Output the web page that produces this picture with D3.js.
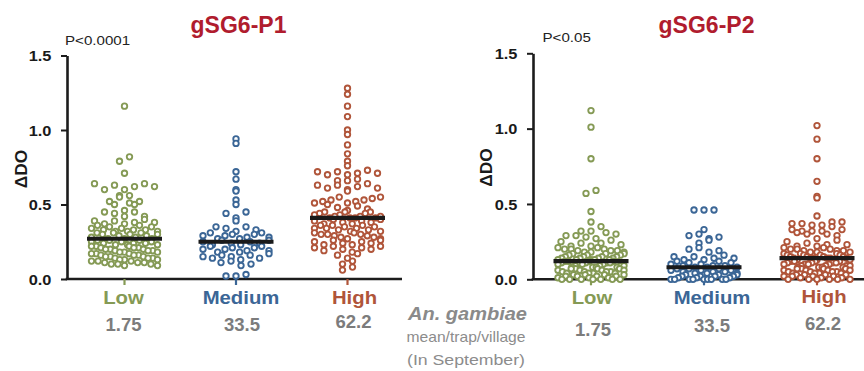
<!DOCTYPE html>
<html>
<head>
<meta charset="utf-8">
<script src="https://cdn.jsdelivr.net/npm/d3@7"></script>
<style>
  html, body { margin: 0; padding: 0; background: #fff; }
  svg { display: block; font-family: "Liberation Sans", Arial, Helvetica, sans-serif; }
</style>
</head>
<body>
<svg id="chart" width="864" height="371"></svg>
<script>
// ---------------- DATA ----------------
const categories = ["Low", "Medium", "High"];
const densities = ["1.75", "33.5", "62.2"];
const yTicks = [0, 0.5, 1.0, 1.5];
const titles = ["gSG6-P1", "gSG6-P2"];
const pValues = ["P<0.0001", "P<0.05"];
const yLabel = "ΔDO";
const centerLabel = ["An. gambiae", "mean/trap/village", "(In September)"];

const p1Low = [1.16,0.82,0.79,0.71,0.64,0.64,0.63,0.62,0.62,0.60,0.60,0.56,0.56,0.55,0.52,0.52,0.51,0.50,0.50,0.46,0.45,0.45,0.44,0.42,0.42,0.40,0.39,0.39,0.38,0.38,
  0.37,0.37,0.36,0.36,0.35,0.35,0.34,0.34,0.33,0.33,0.33,0.32,0.32,0.32,0.31,0.31,0.31,0.30,0.30,0.30,0.29,0.29,0.28,0.28,0.27,
  0.27,0.27,0.26,0.26,0.26,0.25,0.25,0.25,0.24,0.24,0.24,0.23,0.23,0.23,0.22,0.22,0.22,0.21,0.21,0.21,0.20,0.20,0.20,0.19,0.19,0.19,0.18,0.18,0.18,0.17,0.17,0.17,0.16,0.16,0.16,0.15,0.15,0.15,0.14,0.14,0.14,0.13,0.13,0.13,0.12,0.12,0.12,0.11,0.11,0.11,0.10,0.10,0.10,0.09,0.09];
const p1Medium = [0.94,0.91,0.72,0.67,0.60,0.59,0.53,0.50,0.45,0.44,0.41,0.39,0.35,0.35,0.34,0.33,0.32,0.31,0.31,0.30,0.30,0.29,0.29,0.28,0.28,0.27,0.27,0.26,0.26,0.25,
  0.25,0.24,0.24,0.23,0.23,0.22,0.22,0.21,0.21,0.20,0.20,0.19,0.19,0.18,0.18,0.17,0.16,0.16,0.15,0.15,0.14,0.14,0.13,0.12,0.11,0.10,0.09,0.03,0.02,0.02];
const p1High = [1.28,1.24,1.16,1.09,1.00,0.97,0.90,0.84,0.79,0.76,0.73,0.72,0.72,0.71,0.71,0.70,0.70,0.67,0.66,0.66,0.64,0.63,0.63,0.62,0.61,0.61,0.60,0.59,0.55,0.55,0.54,0.53,0.53,0.52,0.52,0.51,0.51,0.50,0.49,0.48,0.47,0.46,0.45,0.45,0.45,0.44,0.44,0.43,0.43,0.42,0.42,0.42,0.41,0.41,0.41,
  0.41,0.40,0.40,0.39,0.39,0.38,0.38,0.37,0.37,0.36,0.36,0.36,0.35,0.35,0.34,0.34,0.34,0.33,0.33,0.32,0.32,0.31,0.31,0.30,0.30,0.30,0.29,0.29,0.28,0.28,0.27,0.27,0.26,0.26,0.25,0.25,0.24,0.24,0.23,0.23,0.22,0.22,0.21,0.21,0.20,0.20,0.19,0.18,0.17,0.16,0.14,0.12,0.10,0.08,0.06];
const p2Low = [1.12,1.01,0.80,0.59,0.57,0.45,0.38,0.35,0.32,0.32,0.31,0.30,0.29,0.29,0.28,0.27,0.26,0.25,0.24,0.24,0.23,0.22,0.22,0.21,0.21,0.20,0.20,0.20,0.19,0.19,0.19,0.18,0.18,0.18,0.17,0.17,0.17,0.16,0.16,0.16,0.15,0.15,0.15,0.15,0.14,0.14,0.14,0.14,0.13,0.13,0.13,0.13,0.13,
  0.12,0.12,0.12,0.12,0.11,0.11,0.11,0.11,0.10,0.10,0.10,0.10,0.09,0.09,0.09,0.09,0.08,0.08,0.08,0.08,0.07,0.07,0.07,0.07,0.06,0.06,0.06,0.06,0.05,0.05,0.05,0.05,0.04,0.04,0.04,0.04,0.03,0.03,0.03,0.03,0.02,0.02,0.02,0.02,0.01,0.01,0.01,0.00,0.00,0.00,0.00,0.00,0.00,0.00];
const p2Medium = [0.46,0.46,0.46,0.33,0.30,0.29,0.28,0.27,0.26,0.24,0.21,0.20,0.19,0.18,0.16,0.15,0.15,0.14,0.14,0.13,0.13,0.12,0.12,0.11,0.11,0.10,0.10,0.09,0.09,0.09,0.08,0.08,
  0.08,0.07,0.07,0.07,0.06,0.06,0.06,0.05,0.05,0.05,0.04,0.04,0.04,0.03,0.03,0.03,0.02,0.02,0.02,0.02,0.01,0.01,0.01,0.00,0.00,0.00,0.00,0.00,0.00,0.00,0.00,0.00];
const p2High = [1.02,0.93,0.80,0.65,0.55,0.54,0.42,0.38,0.38,0.37,0.37,0.36,0.36,0.35,0.33,0.33,0.32,0.32,0.32,0.31,0.30,0.30,0.29,0.27,0.26,0.25,0.24,0.23,0.23,0.22,0.22,0.21,0.21,0.20,0.20,0.20,0.19,0.19,0.19,0.18,0.18,0.18,0.17,0.17,0.17,0.16,0.16,0.16,0.16,0.15,0.15,0.15,0.15,0.14,0.14,0.14,0.14,0.14,
  0.14,0.13,0.13,0.13,0.13,0.12,0.12,0.12,0.12,0.11,0.11,0.11,0.11,0.10,0.10,0.10,0.10,0.09,0.09,0.09,0.09,0.08,0.08,0.08,0.08,0.07,0.07,0.07,0.07,0.06,0.06,0.06,0.06,0.05,0.05,0.05,0.05,0.04,0.04,0.04,0.04,0.03,0.03,0.03,0.03,0.02,0.02,0.02,0.02,0.01,0.01,0.01,0.00,0.00,0.00,0.00,0.00,0.00];

const panel1Series = [p1Low, p1Medium, p1High];
const panel2Series = [p2Low, p2Medium, p2High];

// ---------------- STYLE / LAYOUT ----------------
const catColors = ["#859a55", "#3b6696", "#b0553a"];
const titleColor = "#b01c2e";
const axisColor = "#1c1c1c";
const greyText = "#7c7c7c";
const FONT = '"Liberation Sans", Arial, Helvetica, sans-serif';

const panels = [
  { series: panel1Series, title: titles[0], p: pValues[0],
    axisX: 67, xEnd: 402, yRange: [279, 55.5], xRange: [124.5, 347.5],
    titleX: 238.5, pX: 65, pY: 45, yLabX: 26.5, yLabY: 169,
    catY: [303.5, 303.5, 303.5], catDx: [-1, 5, 7],
    numY: [331, 330.5, 327.5], numDx: [-1, 6, 6] },
  { series: panel2Series, title: titles[1], p: pValues[1],
    axisX: 533, xEnd: 864, yRange: [279.3, 53.3], xRange: [591, 817],
    titleX: 706.5, pX: 542.5, pY: 41.7, yLabX: 492, yLabY: 167.5,
    catY: [304, 304, 303], catDx: [1, 8, 7],
    numY: [336, 331.5, 330], numDx: [2, 8, 6] }
];

const svg = d3.select("#chart");
svg.append("rect").attr("width", 864).attr("height", 371).attr("fill", "#fff");

function stretchedText(g, x, y, str, sx, anchor) {
  return g.append("text")
    .attr("transform", `translate(${x},${y}) scale(${sx},1)`)
    .attr("text-anchor", anchor)
    .text(str);
}

function coprimeStep(n) {
  const gcd = (a, b) => b ? gcd(b, a % b) : a;
  for (const k of [5, 7, 3, 11, 13, 17]) if (gcd(k, n) === 1) return k;
  return 1;
}

// Prism-like scatter layout: bin by pixel row, spread symmetrically
function layout(values, y, cx) {
  const binH = 7, maxW = 66, gap = 10;
  const y0 = y(0);
  const pts = values.map(v => ({ v, py: y(v) }));
  const bins = d3.group(pts, p => Math.floor((y0 - p.py + 2) / binH));
  bins.forEach(arr => {
    arr.sort((a, b) => a.v - b.v);
    const n = arr.length;
    const sp = n > 1 ? Math.min(gap, maxW / (n - 1)) : 0;
    const k = coprimeStep(n);
    arr.forEach((p, i) => {
      const slot = n > 2 ? (i * k + Math.floor(n / 2)) % n : i;
      p.px = cx + (slot - (n - 1) / 2) * sp;
    });
  });
  return pts;
}

panels.forEach(P => {
  const g = svg.append("g");
  const y = d3.scaleLinear().domain([0, 1.5]).range(P.yRange);
  const x = d3.scalePoint().domain(categories).range(P.xRange);

  // Title
  g.append("text").attr("x", P.titleX).attr("y", 33.3)
    .attr("text-anchor", "middle").attr("font-weight", "bold")
    .attr("font-size", 23).attr("fill", titleColor).text(P.title);

  // P value
  stretchedText(g, P.pX, P.pY, P.p, 1.12, "start")
    .attr("font-size", 13.5).attr("fill", "#222");

  // Y label
  g.append("text")
    .attr("transform", `translate(${P.yLabX},${P.yLabY}) rotate(-90) scale(1.05,1)`)
    .attr("text-anchor", "middle").attr("font-weight", "bold")
    .attr("font-size", 16.5).attr("fill", "#1a1a1a").text(yLabel);

  // Y axis
  const yAxis = d3.axisLeft(y).tickValues(yTicks).tickFormat(d3.format(".1f"))
    .tickSize(6).tickSizeOuter(0);
  const ya = g.append("g").attr("transform", `translate(${P.axisX},0)`).call(yAxis);
  ya.select(".domain").attr("stroke", axisColor).attr("stroke-width", 2.6);
  ya.selectAll(".tick line").attr("stroke", axisColor).attr("stroke-width", 2);
  ya.selectAll(".tick text")
    .attr("x", -13.3).attr("dy", "0.38em")
    .attr("transform", "scale(1.17,1)")
    .attr("font-family", FONT).attr("font-weight", "bold")
    .attr("font-size", 14).attr("fill", "#1a1a1a");

  // X axis line
  g.append("line").attr("x1", P.axisX - 1.3).attr("x2", P.xEnd)
    .attr("y1", y(0)).attr("y2", y(0))
    .attr("stroke", axisColor).attr("stroke-width", 2.6);
  // category ticks
  g.selectAll(".ctick").data(categories).join("line")
    .attr("x1", d => x(d)).attr("x2", d => x(d))
    .attr("y1", y(0)).attr("y2", y(0) + 6)
    .attr("stroke", (d, i) => catColors[i]).attr("stroke-width", 2.2);

  // category labels
  categories.forEach((c, i) => {
    stretchedText(g, x(c) + P.catDx[i], P.catY[i], c, 1.07, "middle")
      .attr("font-weight", "bold").attr("font-size", 19).attr("fill", catColors[i]);
    stretchedText(g, x(c) + P.numDx[i], P.numY[i], densities[i], 1.03, "middle")
      .attr("font-weight", "bold").attr("font-size", 18).attr("fill", greyText);
  });

  // Dots
  P.series.forEach((vals, i) => {
    const c = categories[i];
    const pts = layout(vals, y, x(c));
    g.append("g").selectAll("circle").data(pts).join("circle")
      .attr("cx", d => d.px).attr("cy", d => d.py).attr("r", 2.75)
      .attr("fill", "#fff").attr("stroke", catColors[i]).attr("stroke-width", 1.85);
  });

  // Median bars
  P.series.forEach((vals, i) => {
    const c = categories[i];
    const m = d3.median(vals);
    g.append("line").attr("x1", x(c) - 37.5).attr("x2", x(c) + 37.5)
      .attr("y1", y(m)).attr("y2", y(m))
      .attr("stroke", "#1a1a1a").attr("stroke-width", 4.2);
  });
});

// Center label
const cg = svg.append("g").attr("fill", "#8a8a8a");
cg.append("text").attr("x", 467.5).attr("y", 320).attr("text-anchor", "middle")
  .attr("font-weight", "bold").attr("font-style", "italic").attr("font-size", 17.5)
  .attr("textLength", 119).attr("lengthAdjust", "spacingAndGlyphs").text(centerLabel[0]);
cg.append("text").attr("x", 466).attr("y", 342).attr("text-anchor", "middle")
  .attr("font-size", 15).attr("fill", "#8c8c8c")
  .attr("textLength", 119).attr("lengthAdjust", "spacingAndGlyphs").text(centerLabel[1]);
cg.append("text").attr("x", 466).attr("y", 364.5).attr("text-anchor", "middle")
  .attr("font-size", 15).attr("fill", "#8c8c8c")
  .attr("textLength", 118).attr("lengthAdjust", "spacingAndGlyphs").text(centerLabel[2]);
</script>
</body>
</html>
